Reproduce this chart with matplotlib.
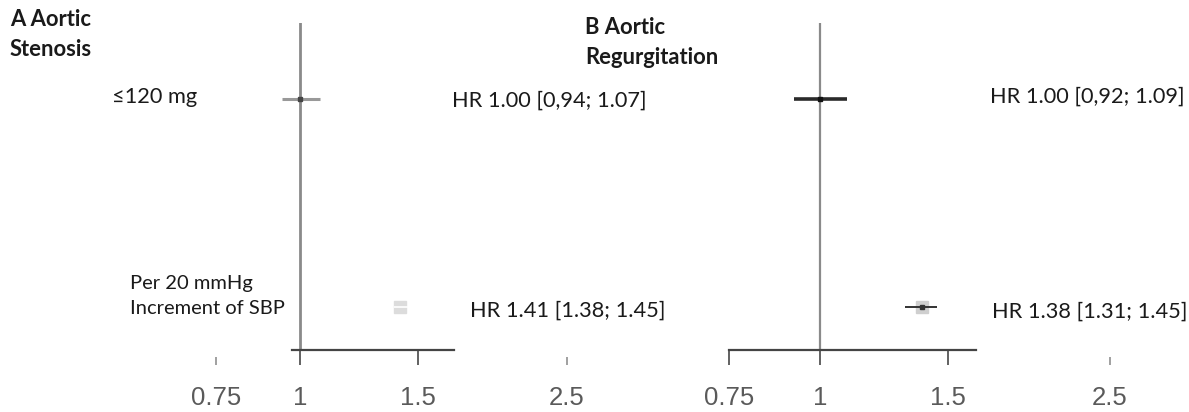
import numpy as np
import matplotlib
matplotlib.use("Agg")
import matplotlib.pyplot as plt

# data
rows_a = ["≤120 mg", "Per 20 mmHg\nIncrement of SBP"]
hr_a = [1.00, 1.41]
lo_a = [0.94, 1.38]
hi_a = [1.07, 1.45]
txt_a = ["HR 1.00 [0,94; 1.07]", "HR 1.41 [1.38; 1.45]"]

hr_b = [1.00, 1.38]
lo_b = [0.92, 1.31]
hi_b = [1.09, 1.45]
txt_b = ["HR 1.00 [0,92; 1.09]", "HR 1.38 [1.31; 1.45]"]

ticks = [0.75, 1, 1.5, 2.5]
tick_labels = ["0.75", "1", "1.5", "2.5"]

W, H = 1189, 412
plt.rcParams['font.family'] = ['Lato', 'DejaVu Sans']
fig = plt.figure(figsize=(W / 100, H / 100), dpi=100)


def fx(px):
    return px / W


def fy(py):
    return 1 - py / H


def make_axes(left, right, x_one, px_per_ln):
    # axes from y=23px to y=350px (the baseline)
    ax = fig.add_axes([fx(left), fy(350), fx(right - left), (350 - 23) / H])
    ax.set_xscale("log")
    ax.set_xlim(np.exp((left - x_one) / px_per_ln), np.exp((right - x_one) / px_per_ln))
    # rows at y=1 (99px) and y=0 (307px)
    ax.set_ylim(-43 / 208, 1 + 76 / 208)
    ax.patch.set_alpha(0)
    for s in ["top", "right", "left"]:
        ax.spines[s].set_visible(False)
    ax.set_yticks([])
    ax.minorticks_off()
    ax.set_xticks(ticks)
    ax.set_xticklabels(tick_labels, family="Liberation Sans", fontsize=18.5, color="#5a5a5a")
    ax.tick_params(axis="x", length=11, width=1.3, color="#555555", pad=15)
    return ax


# panel A
ax_a = make_axes(180, 620, 300, 291)
ax_a.spines["bottom"].set_bounds(0.973, 1.70)
ax_a.spines["bottom"].set_color("#444444")
ax_a.spines["bottom"].set_linewidth(1.6)
ax_a.axvline(1, color="#8a8a8a", lw=2, zorder=1)
ypos = [1, 0]
# row 1
ax_a.plot([lo_a[0], hi_a[0]], [ypos[0]] * 2, color="#999999", lw=2.2, solid_capstyle="butt")
ax_a.plot(hr_a[0], ypos[0], "s", ms=2.5, color="#444444")
# row 2
ax_a.plot(hr_a[1], ypos[1], "s", ms=9, color="#dcdcdc")
ax_a.plot([lo_a[1], hi_a[1]], [ypos[1]] * 2, color="white", lw=1.2, solid_capstyle="butt")

# panel B
ax_b = make_axes(700, 1170, 820, 316)
ax_b.spines["bottom"].set_bounds(0.75, 1.64)
ax_b.spines["bottom"].set_color("#444444")
ax_b.spines["bottom"].set_linewidth(1.6)
ax_b.axvline(1, color="#8a8a8a", lw=1.6, zorder=1)
ax_b.plot([lo_b[0], hi_b[0]], [ypos[0]] * 2, color="#2a2a2a", lw=2.6, solid_capstyle="butt")
ax_b.plot(hr_b[0], ypos[0], "s", ms=2.5, color="#111111")
ax_b.plot(hr_b[1], ypos[1], "s", ms=9, color="#cfcfcf")
ax_b.plot([lo_b[1], hi_b[1]], [ypos[1]] * 2, color="#333333", lw=1.4, solid_capstyle="butt")
ax_b.plot(hr_b[1], ypos[1], "s", ms=2.5, color="#333333")

# faint stubs for ticks off the axis line
for ax, faint in [(ax_a, [0.75, 2.5]), (ax_b, [2.5])]:
    for t in ax.xaxis.get_major_ticks():
        if t.get_loc() in faint:
            t.tick1line.set_markersize(0)
    tr = ax.get_xaxis_transform()
    h = ax.get_position().height * H
    ax.vlines(faint, -15 / h, -7 / h, transform=tr, color="#999999", lw=1.3, clip_on=False)

# titles
tk = dict(fontsize=15.8, fontweight="bold", color="#1a1a1a", va="center", ha="left")
fig.text(fx(10), fy(19), "A Aortic", **tk)
fig.text(fx(10), fy(50), "Stenosis", **tk)
fig.text(fx(585), fy(27), "B Aortic", **tk)
fig.text(fx(585), fy(58), "Regurgitation", **tk)

# row labels
lk = dict(fontsize=15.7, color="#1a1a1a", va="center", ha="left")
fig.text(fx(112), fy(97), rows_a[0], **lk)
fig.text(fx(130), fy(296), rows_a[1], linespacing=1.55,
         **{**lk, "fontsize": 14.5})

# HR texts
fig.text(fx(452), fy(101), txt_a[0], **lk)
fig.text(fx(470), fy(311), txt_a[1], **lk)
fig.text(fx(990), fy(97), txt_b[0], **lk)
fig.text(fx(992), fy(312), txt_b[1], **lk)

fig.savefig("out.png", dpi=100)
